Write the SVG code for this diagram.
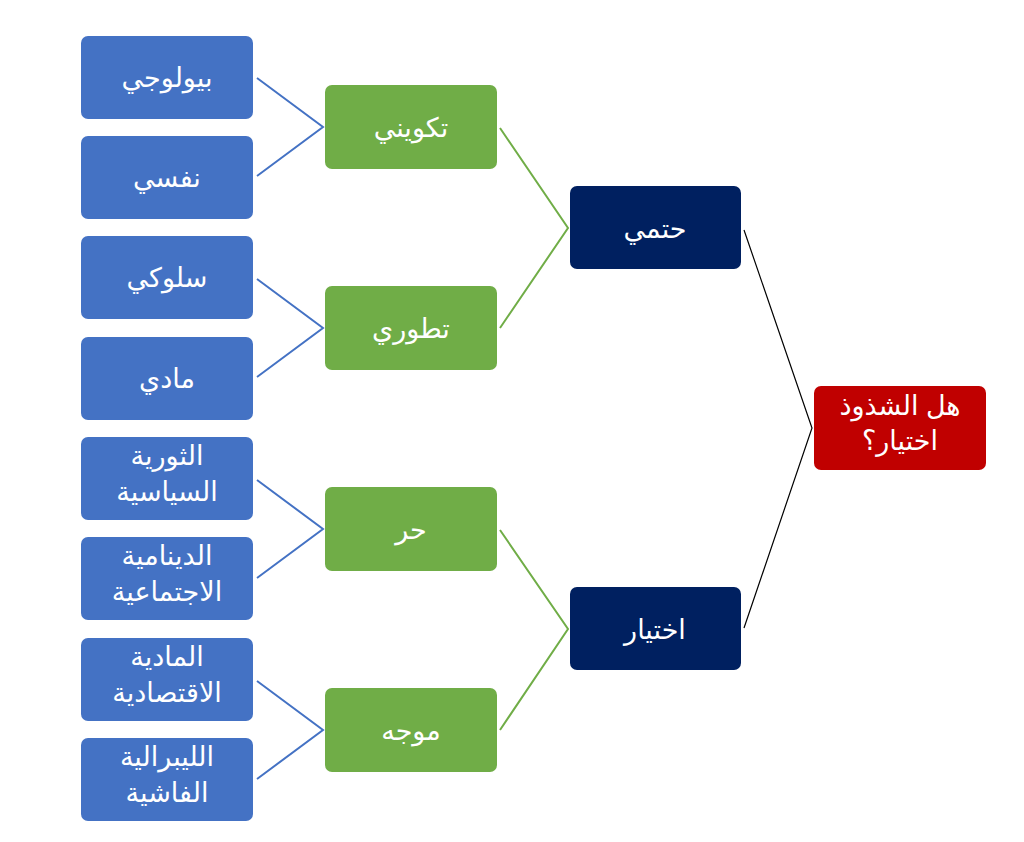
<svg xmlns="http://www.w3.org/2000/svg" width="1024" height="842" viewBox="0 0 1024 842">
<style>
.b{fill:#4472C4}
.g{fill:#70AD47}
.n{fill:#002060}
.r{fill:#C00000}
text{font-family:"Liberation Sans","DejaVu Sans",sans-serif;font-size:27px;fill:#fff;text-anchor:middle;direction:rtl}
.cb{stroke:#4472C4;stroke-width:2;fill:none}
.cg{stroke:#70AD47;stroke-width:2;fill:none}
.ck{stroke:#000;stroke-width:1.2;fill:none}
</style>
<rect width="1024" height="842" fill="#fff"/>
<g id="connectors">
<polyline class="cb" points="257,78 323,127 257,176"/>
<polyline class="cb" points="257,279 323,328 257,377"/>
<polyline class="cb" points="257,480 323,529 257,578"/>
<polyline class="cb" points="257,681 323,730 257,779"/>
<polyline class="cg" points="500,128 568,228 500,328"/>
<polyline class="cg" points="500,530 568,629 500,730"/>
<polyline class="ck" points="744,230 812,428 744,628"/>
</g>
<g id="n1"><rect class="b" x="81" y="36" width="172" height="83" rx="7"/><text x="167" y="87">بيولوجي</text></g>
<g id="n2"><rect class="b" x="81" y="136" width="172" height="83" rx="7"/><text x="167" y="187">نفسي</text></g>
<g id="n3"><rect class="b" x="81" y="236" width="172" height="83" rx="7"/><text x="167" y="287">سلوكي</text></g>
<g id="n4"><rect class="b" x="81" y="337" width="172" height="83" rx="7"/><text x="167" y="388">مادي</text></g>
<g id="n5"><rect class="b" x="81" y="437" width="172" height="83" rx="7"/><text x="167" y="465">الثورية</text><text x="167" y="501">السياسية</text></g>
<g id="n6"><rect class="b" x="81" y="537" width="172" height="83" rx="7"/><text x="167" y="565">الدينامية</text><text x="167" y="601">الاجتماعية</text></g>
<g id="n7"><rect class="b" x="81" y="638" width="172" height="83" rx="7"/><text x="167" y="666">المادية</text><text x="167" y="702">الاقتصادية</text></g>
<g id="n8"><rect class="b" x="81" y="738" width="172" height="83" rx="7"/><text x="167" y="766">الليبرالية</text><text x="167" y="802">الفاشية</text></g>
<g id="g1"><rect class="g" x="325" y="85" width="172" height="84" rx="7"/><text x="411" y="137">تكويني</text></g>
<g id="g2"><rect class="g" x="325" y="286" width="172" height="84" rx="7"/><text x="411" y="338">تطوري</text></g>
<g id="g3"><rect class="g" x="325" y="487" width="172" height="84" rx="7"/><text x="411" y="539">حر</text></g>
<g id="g4"><rect class="g" x="325" y="688" width="172" height="84" rx="7"/><text x="411" y="740">موجه</text></g>
<g id="k1"><rect class="n" x="570" y="186" width="171" height="83" rx="7"/><text x="655" y="238">حتمي</text></g>
<g id="k2"><rect class="n" x="570" y="587" width="171" height="83" rx="7"/><text x="655" y="639">اختيار</text></g>
<g id="root"><rect class="r" x="814" y="386" width="172" height="84" rx="7"/><text x="900" y="415">هل الشذوذ</text><text x="900" y="450">اختيار؟</text></g>
</svg>
